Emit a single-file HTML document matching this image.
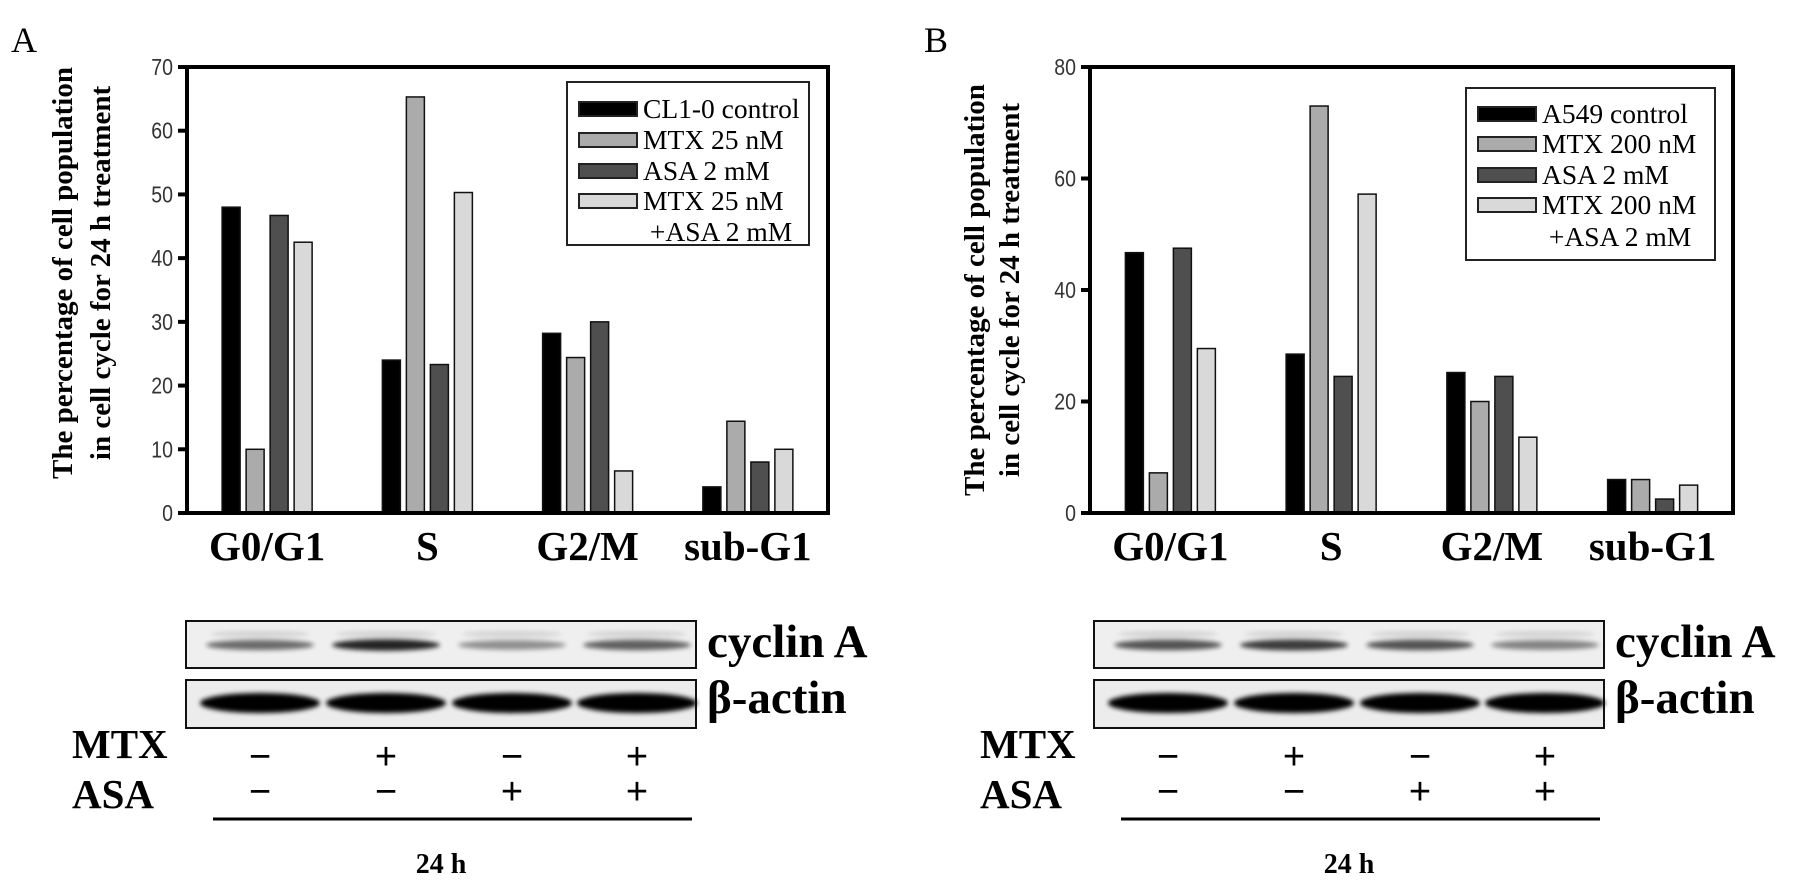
<!DOCTYPE html>
<html><head><meta charset="utf-8">
<style>
html,body{margin:0;padding:0;background:#fff;}
svg{display:block;}
.serif{font-family:"Liberation Serif",serif;}
.sans{font-family:"Liberation Sans",sans-serif;}
</style></head>
<body>
<svg id="fig" width="1795" height="894" viewBox="0 0 1795 894" xmlns="http://www.w3.org/2000/svg">
<defs>
<filter id="blur" x="-20%" y="-100%" width="140%" height="300%"><feGaussianBlur stdDeviation="2.5"/></filter>
</defs>
</svg>
<script>
const categories = ["G0/G1","S","G2/M","sub-G1"];
const seriesNamesA = ["CL1-0 control","MTX 25 nM","ASA 2 mM","MTX 25 nM"];
const seriesNamesB = ["A549 control","MTX 200 nM","ASA 2 mM","MTX 200 nM"];
const controlA = [48, 24, 28.2, 4.1];
const mtxA = [10, 65.3, 24.4, 14.4];
const asaA = [46.7, 23.3, 30, 8];
const comboA = [42.5, 50.3, 6.6, 10];
const controlB = [46.7, 28.5, 25.2, 6];
const mtxB = [7.2, 73, 20, 6];
const asaB = [47.5, 24.5, 24.5, 2.5];
const comboB = [29.5, 57.2, 13.6, 5];
const ticksA = [0,10,20,30,40,50,60,70];
const ticksB = [0,20,40,60,80];
const mtxSigns = ["−","+","−","+"];
const asaSigns = ["−","−","+","+"];
const cyclinIntensityA = [0.55, 0.85, 0.4, 0.6];
const cyclinIntensityB = [0.65, 0.75, 0.65, 0.45];

const NS = "http://www.w3.org/2000/svg";
const svg = document.getElementById("fig");
const fills = ["#000000","#ababab","#4f4f4f","#d9d9d9"];

function mk(tag, attrs, parent, text){
  const e = document.createElementNS(NS, tag);
  for (const k in attrs) e.setAttribute(k, attrs[k]);
  if (text !== undefined) e.textContent = text;
  (parent || svg).appendChild(e);
  return e;
}

function panel(opt){
  const g = mk("g", {});
  
  
  const L = opt.left, R = opt.right, T = 67, B = 513;
  const yScale = v => B - (v / opt.max) * (B - T);
  const band = (R - L) / categories.length;
  const xCenter = i => L + band * (i + 0.5);
  const barW = 18, step = 24;

  const letter = mk("text", {x: opt.letterX, y: 52, "font-size": 36, class: "serif"}, g, opt.letter);
  
  

  const series = opt.series;
  series.forEach((vals, s) => {
    vals.forEach((v, i) => {
      const x = xCenter(i) - 1.5 * step + s * step - barW / 2;
      const r = mk("rect", {x: x, y: yScale(v), width: barW, height: B - yScale(v), fill: fills[s], stroke: "#111", "stroke-width": 1.5}, g);
      
      
    });
  });

  const fr = mk("path", {d: `M${L} ${B} L${L} ${T} L${R} ${T} L${R} ${B} Z`, fill: "none", stroke: "#000", "stroke-width": 4}, g);
  
  

  opt.ticks.forEach(t => {
    const y = yScale(t);
    const tk = mk("line", {x1: L - 9, x2: L, y1: y, y2: y, stroke: "#000", "stroke-width": 4}, g);
    
    
    const lb = mk("text", {x: L - 14, y: y + 8, "text-anchor": "end", "font-size": 23, fill: "#333", class: "sans", transform: `translate(${L-14} ${y+8}) scale(0.85 1) translate(${-(L-14)} ${-(y+8)})`}, g, String(t));
    
    
  });

  categories.forEach((c, i) => {
    const t = mk("text", {x: xCenter(i), y: 560, "text-anchor": "middle", "font-size": 41, "font-weight": "bold", class: "serif"}, g, c);
    
    
  });

  const lines = ["The percentage of cell population", "in cell cycle for 24 h treatment"];
  lines.forEach((ln, k) => {
    const x = opt.titleX[k] + 10, y = opt.titleY;
    const t = mk("text", {x: x, y: y, "text-anchor": "middle", "font-size": 29, "font-weight": "bold", class: "serif", transform: `rotate(-90 ${x} ${y})`}, g, ln);
    
    
  });

  const lg = opt.legend;
  const lgBox = mk("rect", {x: lg.x, y: lg.y, width: lg.w, height: lg.h, fill: "#fff", stroke: "#222", "stroke-width": 2}, g);
  
  
  opt.names.forEach((n, s) => {
    const cy = lg.rows[s];
    const sw = mk("rect", {x: lg.sx, y: cy - 7, width: 58, height: 14, fill: fills[s], stroke: "#222", "stroke-width": 2}, g);
    
    
    const t = mk("text", {x: lg.sx + 64, y: cy + 9, "font-size": 27.5, class: "serif"}, g, n);
    
    
  });
  const t5 = mk("text", {x: lg.sx + 64, y: lg.rows[4] + 9, "font-size": 27.5, class: "serif"}, g, "\u00A0+ASA 2 mM");
  
  

  const bx = opt.blotX, bw = 510;
  const lanes = [bx + 74, bx + 200, bx + 326, bx + 451];
  const b1 = mk("rect", {x: bx, y: 621, width: bw, height: 47, fill: "#efefef", stroke: "#111", "stroke-width": 2}, g);
  
  
  lanes.forEach((lx, i) => {
    const a = opt.cyclin[i];
    const e = mk("ellipse", {cx: lx, cy: 645, rx: 54, ry: 4 + 2 * a, fill: "#000", opacity: a, filter: "url(#blur)"}, g);
    
    
    const e2 = mk("ellipse", {cx: lx, cy: 634, rx: 50, ry: 3, fill: "#000", opacity: 0.12, filter: "url(#blur)"}, g);
    
    
  });
  const b2 = mk("rect", {x: bx, y: 680, width: bw, height: 48, fill: "#ececec", stroke: "#111", "stroke-width": 2}, g);
  
  
  lanes.forEach((lx) => {
    const e = mk("ellipse", {cx: lx, cy: 703, rx: 60, ry: 10, fill: "#050505", filter: "url(#blur)"}, g);
    
    
  });
  const cl = mk("text", {x: bx + 521, y: 657, "font-size": 47, "font-weight": "bold", class: "serif"}, g, "cyclin A");
  
  
  const al = mk("text", {x: bx + 521, y: 713, "font-size": 47, "font-weight": "bold", class: "serif"}, g, "β-actin");
  
  

  const mx = mk("text", {x: bx - 114, y: 758, "font-size": 41, "font-weight": "bold", class: "serif"}, g, "MTX");
  
  
  const as = mk("text", {x: bx - 114, y: 808, "font-size": 41, "font-weight": "bold", class: "serif"}, g, "ASA");
  
  
  lanes.forEach((lx, i) => {
    const s1 = mk("text", {x: lx, y: 769, "text-anchor": "middle", "font-size": 38, class: "sans"}, g, mtxSigns[i]);
    
    
    const s2 = mk("text", {x: lx, y: 804, "text-anchor": "middle", "font-size": 38, class: "sans"}, g, asaSigns[i]);
    
    
  });
  const ul = mk("line", {x1: bx + 27, x2: bx + 506, y1: 819, y2: 819, stroke: "#000", "stroke-width": 3}, g);
  
  
  const tl = mk("text", {x: bx + 255, y: 873, "text-anchor": "middle", "font-size": 28, "font-weight": "bold", class: "serif"}, g, "24 h");
  
  
}

panel({id: "a", letter: "A", letterX: 11, left: 187, right: 828, max: 70, ticks: ticksA,
  series: [controlA, mtxA, asaA, comboA], names: seriesNamesA,
  titleX: [62, 100], titleY: 273,
  legend: {x: 567, y: 82, w: 242, h: 163, sx: 579, rows: [109, 140, 171, 201, 232]},
  blotX: 186, cyclin: cyclinIntensityA});
panel({id: "b", letter: "B", letterX: 924, left: 1090, right: 1733, max: 80, ticks: ticksB,
  series: [controlB, mtxB, asaB, comboB], names: seriesNamesB,
  titleX: [974, 1009], titleY: 290,
  legend: {x: 1466, y: 88, w: 249, h: 172, sx: 1478, rows: [114, 144, 175, 205, 237]},
  blotX: 1094, cyclin: cyclinIntensityB});
</script>
</body></html>
